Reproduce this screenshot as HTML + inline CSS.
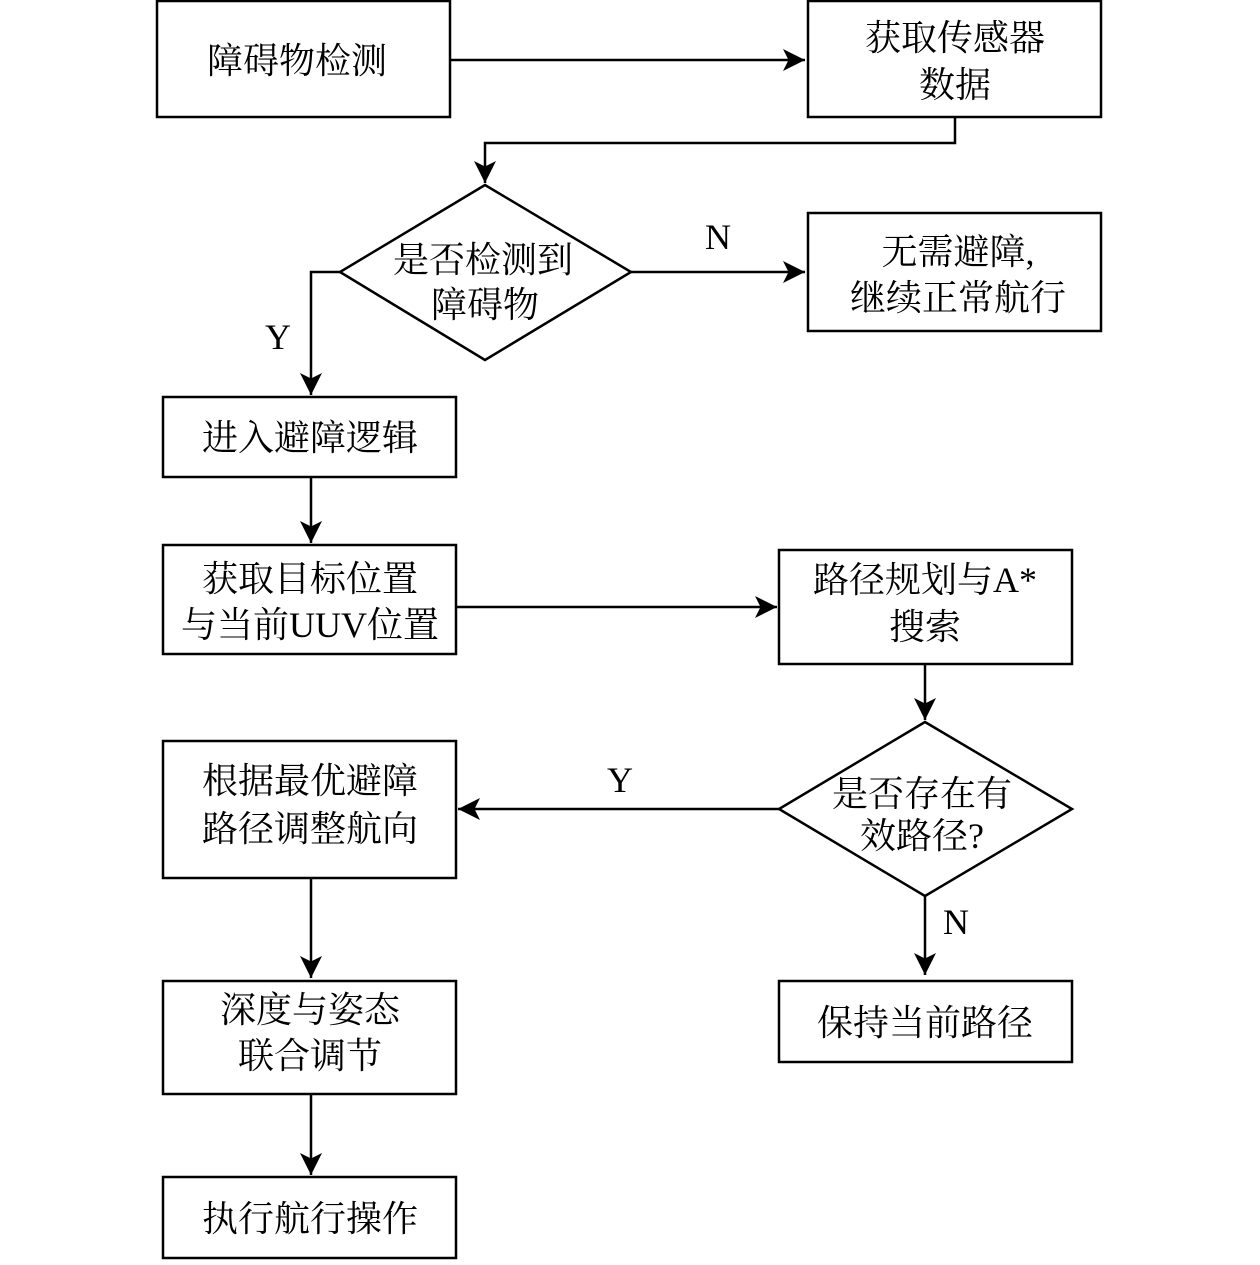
<!DOCTYPE html>
<html><head><meta charset="utf-8"><style>
html,body{margin:0;padding:0;background:#fff;}
svg text{font-family:"Liberation Serif","Noto Serif CJK SC",serif;font-size:36px;fill:#000;text-anchor:middle;}
</style></head><body>
<svg width="1260" height="1260" viewBox="0 0 1260 1260" xmlns="http://www.w3.org/2000/svg">
<defs><marker id="a" markerWidth="12" markerHeight="12" refX="10" refY="6" orient="auto" markerUnits="userSpaceOnUse"><path d="M0,0 L24,6 L0,12 z" transform="scale(0.5,1)" fill="#000"/></marker>
<marker id="b" viewBox="0 0 20 20" markerWidth="22" markerHeight="22" refX="20" refY="10" orient="auto" markerUnits="userSpaceOnUse"><path d="M0,0 L20,10 L0,20 L5,10 z" fill="#000"/></marker></defs>
<g fill="none" stroke="#000" stroke-width="2.5">
<rect x="157" y="1" width="293" height="116"/>
<rect x="808" y="1" width="293" height="116"/>
<rect x="808" y="213" width="293" height="118"/>
<rect x="163" y="397" width="293" height="80"/>
<rect x="163" y="545" width="293" height="109"/>
<rect x="779" y="550" width="293" height="114"/>
<rect x="163" y="741" width="293" height="137"/>
<rect x="779" y="981" width="293" height="81"/>
<rect x="163" y="981" width="293" height="113"/>
<rect x="163" y="1177" width="293" height="81"/>
<polygon points="485,185 631,272 485,360 340,272"/>
<polygon points="925,722 1072,809 925,896 779,809"/>
<g marker-end="url(#b)">
<line x1="450" y1="60" x2="805" y2="60"/>
<polyline points="955,117 955,143 485,143 485,183"/>
<line x1="631" y1="272" x2="805" y2="272"/>
<polyline points="340,272 311,272 311,395"/>
<line x1="311" y1="477" x2="311" y2="543"/>
<line x1="456" y1="607" x2="777" y2="607"/>
<line x1="925" y1="664" x2="925" y2="720"/>
<line x1="779" y1="809" x2="458" y2="809"/>
<line x1="925" y1="896" x2="925" y2="975"/>
<line x1="311" y1="878" x2="311" y2="978"/>
<line x1="311" y1="1094" x2="311" y2="1175"/>
</g></g>
<text x="297" y="73">障碍物检测</text>
<text x="955" y="50">获取传感器</text><text x="955" y="97">数据</text>
<text x="483" y="272">是否检测到</text><text x="485" y="317">障碍物</text>
<text x="718" y="249">N</text>
<text x="958" y="264">无需避障,</text><text x="958" y="310">继续正常航行</text>
<text x="278" y="349">Y</text>
<text x="310" y="450">进入避障逻辑</text>
<text x="310" y="591">获取目标位置</text><text x="310" y="637">与当前UUV位置</text>
<text x="925" y="592">路径规划与A*</text><text x="925" y="639">搜索</text>
<text x="620" y="792">Y</text>
<text x="922" y="806">是否存在有</text><text x="922" y="848">效路径?</text>
<text x="956" y="934">N</text>
<text x="310" y="793">根据最优避障</text><text x="310" y="841">路径调整航向</text>
<text x="925" y="1035">保持当前路径</text>
<text x="310" y="1022">深度与姿态</text><text x="310" y="1068">联合调节</text>
<text x="310" y="1231">执行航行操作</text>
</svg>
</body></html>
